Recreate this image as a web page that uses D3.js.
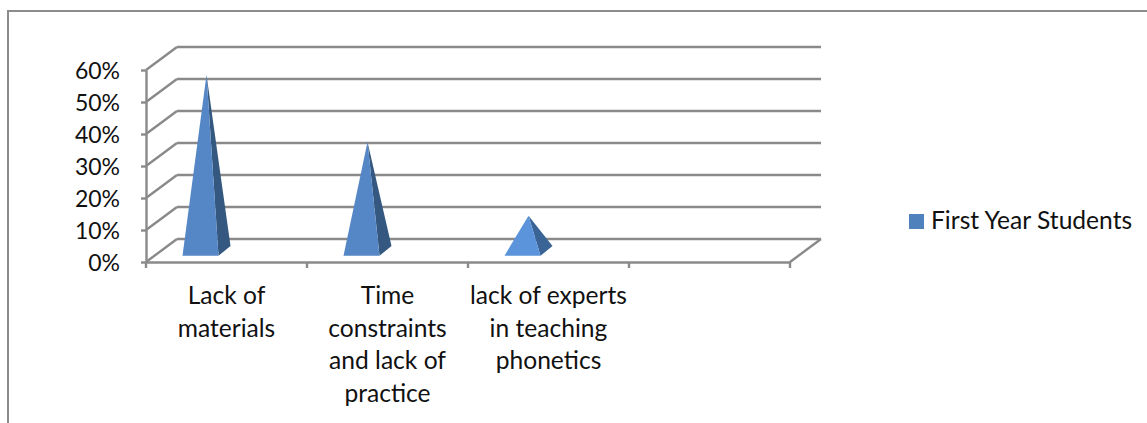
<!DOCTYPE html>
<html>
<head>
<meta charset="utf-8">
<script src="https://cdn.jsdelivr.net/npm/d3@7"></script>
<style>
  html, body { margin: 0; padding: 0; background: #fff; }
  svg { display: block; }
  text { font-family: Lato, "Open Sans", sans-serif; font-size: 24.6px; fill: #111; }
  .grid { stroke: #8a8a8a; stroke-width: 2.4; fill: none; }
  .axis path, .axis line { stroke: #8a8a8a; stroke-width: 2.4; }
</style>
</head>
<body>
<div id="chart"></div>
<script>
// Values
var categories = ["Lack of materials", "Time constraints and lack of practice", "lack of experts in teaching phonetics", ""];
var categoryLines = [
  ["Lack of", "materials"],
  ["Time", "constraints", "and lack of", "practice"],
  ["lack of experts", "in teaching", "phonetics"],
  []
];
var values = [0.55, 0.34, 0.11];
var yTicks = [0, 0.1, 0.2, 0.3, 0.4, 0.5, 0.6];
var seriesName = "First Year Students";
var frontColors = ["#5586c6", "#5586c6", "#5b94da"];
var sideColors = ["#34587f", "#34587f", "#3a6496"];

var width = 1147, height = 423;

// Front plane of the fake 3D box
var x = d3.scaleBand().domain(categories).range([146, 790]);
var y = d3.scaleLinear().domain([0, 0.6]).range([262, 70]);

// Depth of the box and of each pyramid
var depth = {x: 31, y: -23};
var barDepth = {x: 12, y: -9.7};
var barFrontY = -6.3;
var barWidth = 36;
var barShift = -26;

var svg = d3.select("#chart")
  .append("svg")
    .attr("width", width)
    .attr("height", height);

// Outer frame, open on the right and at the bottom
svg.append("path")
  .attr("d", "M8," + height + "V11H" + width)
  .attr("fill", "none")
  .attr("stroke", "#8c8c8c")
  .attr("stroke-width", 2);

var x0 = x.range()[0], x1 = x.range()[1];

// Back wall lines
svg.selectAll(".back")
  .data(yTicks)
  .enter().append("line")
    .attr("class", "grid")
    .attr("x1", x0 + depth.x)
    .attr("x2", x1 + depth.x)
    .attr("y1", function(d) { return y(d) + depth.y; })
    .attr("y2", function(d) { return y(d) + depth.y; });

// Side wall lines
svg.selectAll(".side")
  .data(yTicks)
  .enter().append("line")
    .attr("class", "grid")
    .attr("x1", x0)
    .attr("x2", x0 + depth.x)
    .attr("y1", function(d) { return y(d); })
    .attr("y2", function(d) { return y(d) + depth.y; });

// Right edge of the floor
svg.append("line")
  .attr("class", "grid")
  .attr("x1", x1)
  .attr("x2", x1 + depth.x)
  .attr("y1", y(0))
  .attr("y2", y(0) + depth.y);

// Axes
var yAxis = d3.axisLeft(y)
  .tickValues(yTicks)
  .tickSize(5)
  .tickSizeOuter(0)
  .tickFormat(d3.format(".0%"));

var xAxis = d3.axisBottom(x)
  .tickValues([])
  .tickSizeOuter(0);

var gy = svg.append("g")
  .attr("class", "axis")
  .attr("transform", "translate(" + x0 + ",0)")
  .call(yAxis);

gy.selectAll("text")
  .attr("x", -26)
  .attr("dy", "0.35em")
  .style("font-size", "23px");

var gx = svg.append("g")
  .attr("class", "axis")
  .attr("transform", "translate(0," + y(0) + ")")
  .call(xAxis);

// Ticks sit between the categories
var xTickPos = categories.map(function(d) { return x(d); }).concat([x1]);
gx.selectAll(".sep")
  .data(xTickPos)
  .enter().append("line")
    .attr("x1", function(d) { return d; })
    .attr("x2", function(d) { return d; })
    .attr("y1", 0)
    .attr("y2", 6);

// Pyramids
function barPoints(d, i) {
  var left = x(categories[i]) + x.bandwidth() / 2 + barShift - barWidth / 2;
  var right = left + barWidth;
  var base = y(0) + barFrontY;
  return {
    left: [left, base],
    right: [right, base],
    back: [right + barDepth.x, base + barDepth.y],
    apex: [left + barWidth / 2 + barDepth.x / 2, y(d) + barFrontY + barDepth.y / 2]
  };
}

var bars = svg.selectAll(".bar")
  .data(values)
  .enter().append("g")
    .attr("class", "bar");

bars.append("path")
  .attr("fill", function(d, i) { return sideColors[i]; })
  .attr("d", function(d, i) {
    var p = barPoints(d, i);
    return "M" + [p.right, p.back, p.apex].join("L") + "Z";
  });

bars.append("path")
  .attr("fill", function(d, i) { return frontColors[i]; })
  .attr("d", function(d, i) {
    var p = barPoints(d, i);
    return "M" + [p.left, p.right, p.apex].join("L") + "Z";
  });

// Category labels, wrapped by hand like the original
var labels = svg.selectAll(".cat")
  .data(categories)
  .enter().append("text")
    .attr("class", "cat")
    .attr("text-anchor", "middle")
    .attr("x", function(d) { return x(d) + x.bandwidth() / 2; })
    .attr("y", 304);

labels.selectAll("tspan")
  .data(function(d, i) { return categoryLines[i]; })
  .enter().append("tspan")
    .attr("x", function() { return d3.select(this.parentNode).attr("x"); })
    .attr("dy", function(d, i) { return i ? 32.5 : 0; })
    .text(function(d) { return d; });

// Legend
svg.append("rect")
  .attr("x", 909)
  .attr("y", 214)
  .attr("width", 15)
  .attr("height", 15)
  .attr("fill", "#4f81bd");

svg.append("text")
  .attr("x", 931)
  .attr("y", 229)
  .text(seriesName);
</script>
</body>
</html>
